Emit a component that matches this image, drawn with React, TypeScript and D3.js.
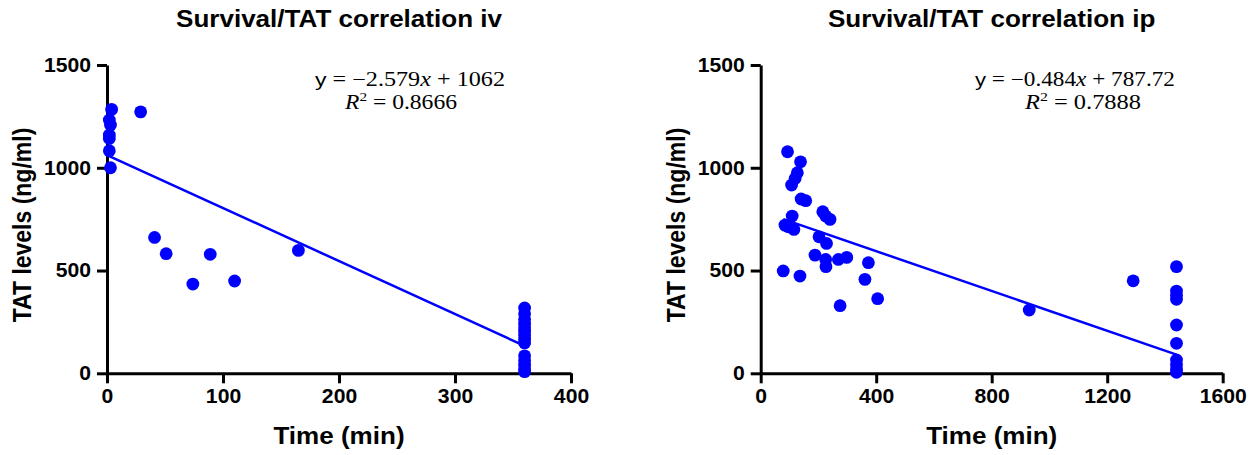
import React, { useEffect, useRef } from 'react';
import * as d3 from 'd3';

// iv panel
const ivTime = [4, 29, 2, 3, 2, 2, 2, 3, 41, 51, 89, 74, 110, 165,
  360, 360, 360, 360, 360, 360, 360, 360, 360, 360, 360, 360, 360, 360];
const ivTat = [1284, 1272, 1232, 1208, 1159, 1143, 1083, 1000, 661, 582, 579, 434, 449, 598,
  318, 290, 262, 240, 222, 205, 185, 165, 148, 85, 62, 40, 20, 8];
const ivXTicks = [0, 100, 200, 300, 400];
const ivFit = [-2.579, 1062];
const ivFitRange = [0, 360];
const ivEq = ['−2.579', '1062', '0.8666'];

// ip panel
const ipTime = [93, 138, 127, 119, 107, 140, 156, 215, 225, 240, 109, 84, 96, 115, 202, 228, 188, 225,
  226, 269, 298, 373, 361, 405, 275, 78, 136, 930, 1290,
  1440, 1440, 1440, 1440, 1440, 1440, 1440, 1440, 1440, 1440];
const ipTat = [1078, 1029, 976, 948, 916, 848, 840, 786, 765, 749, 765, 721, 713, 700, 664, 632, 575, 554,
  519, 554, 564, 538, 457, 363, 329, 498, 473, 308, 450,
  519, 400, 380, 360, 235, 146, 65, 40, 20, 5];
const ipXTicks = [0, 400, 800, 1200, 1600];
const ipFit = [-0.484, 787.72];
const ipFitRange = [78, 1440];
const ipEq = ['−0.484', '787.72', '0.7888'];

const tatTicks = [0, 500, 1000, 1500];

const SX = 1.085; // horizontal stretch of the original figure
const SANS = '"Liberation Sans", Arial, sans-serif';
const SERIF = '"Liberation Serif", "DejaVu Serif", serif';

const App = () => {
  const svgRef = useRef<SVGSVGElement>(null);

  useEffect(() => {
    document.body.style.margin = '0';
    const svg = d3.select(svgRef.current);
    svg.selectAll('*').remove();

    const y = d3.scaleLinear().domain([0, 1500]).range([373.3, 65]);

    const panels = [
      { title: 'Survival/TAT correlation iv', time: ivTime, tat: ivTat, ticks: ivXTicks, fit: ivFit, range: ivFitRange, eq: ivEq,
        x: d3.scaleLinear().domain([0, 400]).range([107, 571]), yl: 31, eq1: [315, 505], eq2: [345, 457] },
      { title: 'Survival/TAT correlation ip', time: ipTime, tat: ipTat, ticks: ipXTicks, fit: ipFit, range: ipFitRange, eq: ipEq,
        x: d3.scaleLinear().domain([0, 1600]).range([760.7, 1222.7]), yl: 685, eq1: [975, 1175], eq2: [1025, 1141] },
    ];

    panels.forEach(p => {
      const g = svg.append('g');
      const [x0, x1] = p.x.range();
      const cx = (x0 + x1) / 2;

      // title
      g.append('text')
        .attr('transform', `translate(${cx},26.7) scale(${SX},1)`)
        .attr('text-anchor', 'middle')
        .attr('font-family', SANS).attr('font-weight', 'bold').attr('font-size', 24)
        .text(p.title);

      // axes
      const styleAxis = (a) => {
        a.select('.domain').attr('stroke-width', 3).attr('stroke', '#000');
        a.selectAll('.tick line').attr('stroke-width', 3).attr('stroke', '#000');
        a.selectAll('.tick text')
          .attr('font-family', SANS).attr('font-weight', 'bold').attr('font-size', 19.5).attr('fill', '#000');
      };

      g.append('g')
        .attr('transform', `translate(0,${y(0)})`)
        .call(d3.axisBottom(p.x).tickValues(p.ticks).tickFormat(d3.format('d')).tickSize(10).tickPadding(6).tickSizeOuter(0))
        .call(styleAxis)
        .call(a => a.selectAll('.tick text').attr('transform', `scale(${SX},1)`));

      g.append('g')
        .attr('transform', `translate(${x0},0)`)
        .call(d3.axisLeft(y).tickValues(tatTicks).tickFormat(d3.format('d')).tickSize(10).tickPadding(6).tickSizeOuter(0))
        .call(styleAxis)
        .call(a => a.selectAll('.tick text').attr('transform', `scale(${SX},1)`).attr('x', -16 / SX));

      // axis labels
      g.append('text')
        .attr('transform', `translate(${cx},444) scale(${SX},1)`)
        .attr('text-anchor', 'middle')
        .attr('font-family', SANS).attr('font-weight', 'bold').attr('font-size', 24)
        .text('Time (min)');

      g.append('text')
        .attr('transform', `translate(${p.yl},225) rotate(-90) scale(1,${SX})`)
        .attr('text-anchor', 'middle')
        .attr('font-family', SANS).attr('font-weight', 'bold').attr('font-size', 23)
        .text('TAT levels (ng/ml)');

      // points
      g.append('g')
        .attr('fill', '#0000ff')
        .selectAll('circle')
        .data(p.time.map((t, i) => [t, p.tat[i]]))
        .join('circle')
        .attr('cx', d => p.x(d[0]))
        .attr('cy', d => y(d[1]))
        .attr('r', 6.4);

      // regression line
      const line = d3.line<number>().x(t => p.x(t)).y(t => y(p.fit[0] * t + p.fit[1]));
      g.append('path')
        .attr('d', line(p.range))
        .attr('fill', 'none')
        .attr('stroke', '#0000ff')
        .attr('stroke-width', 2.5);

      // equation
      const e1 = g.append('text')
        .attr('x', p.eq1[0]).attr('y', 86)
        .attr('font-family', SERIF).attr('font-size', 20)
        .attr('textLength', p.eq1[1] - p.eq1[0]).attr('lengthAdjust', 'spacingAndGlyphs');
      e1.append('tspan').attr('font-family', SANS).attr('font-size', 19).text('y');
      e1.append('tspan').text(` = ${p.eq[0]}`);
      e1.append('tspan').attr('font-style', 'italic').text('x');
      e1.append('tspan').text(` + ${p.eq[1]}`);

      const e2 = g.append('text')
        .attr('x', p.eq2[0]).attr('y', 109.3)
        .attr('font-family', SERIF).attr('font-size', 20)
        .attr('textLength', p.eq2[1] - p.eq2[0]).attr('lengthAdjust', 'spacingAndGlyphs');
      e2.append('tspan').attr('font-style', 'italic').text('R');
      e2.append('tspan').attr('font-size', 13).attr('dy', -8).text('2');
      e2.append('tspan').attr('dy', 8).text(` = ${p.eq[2]}`);
    });
  }, []);

  return <svg ref={svgRef} width={1260} height={455} style={{ display: 'block', background: '#fff' }} />;
};

export default App;
